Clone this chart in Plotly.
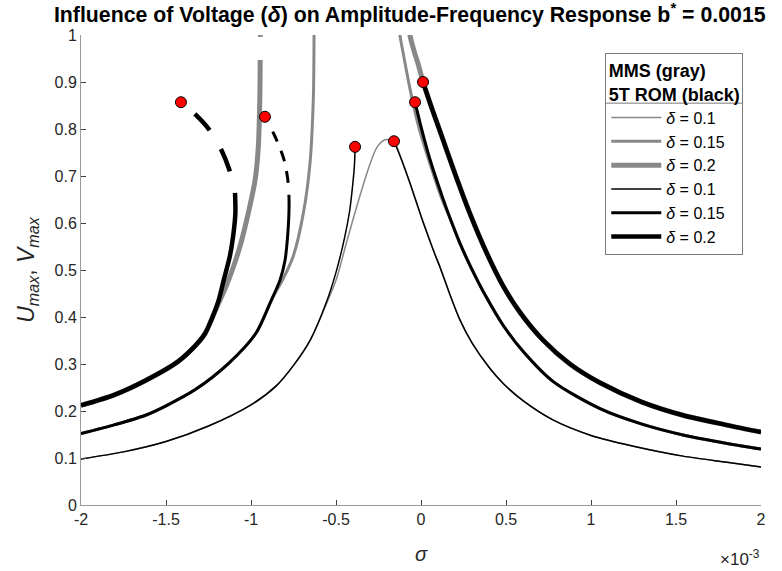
import plotly.graph_objects as go

GRAY = "#888888"
BLACK = "#000000"
FONT = "Liberation Sans, Arial, sans-serif"

# sigma in units of 1e-3
# --- delta = 0.1 ---
g01_x = [-2.0, -1.75, -1.5, -1.25, -1.0, -0.85, -0.75, -0.65, -0.56, -0.5, -0.437, -0.378, -0.319, -0.261,
         -0.212, -0.159, -0.12, -0.065, 0.0, 0.035, 0.08, 0.112, 0.17, 0.229, 0.3, 0.4, 0.482, 0.6, 0.776,
         1.0, 1.25, 1.541, 1.8, 2.0]
g01_y = [0.098, 0.113, 0.135, 0.168, 0.213, 0.254, 0.297, 0.352, 0.425, 0.478, 0.560, 0.635, 0.705, 0.760,
         0.777, 0.774, 0.740, 0.685, 0.615, 0.579, 0.535, 0.506, 0.448, 0.394, 0.345, 0.293, 0.259, 0.222, 0.181,
         0.148, 0.125, 0.104, 0.091, 0.081]
b01L_x = [-2.0, -1.75, -1.5, -1.25, -1.0, -0.85, -0.75, -0.65, -0.56, -0.5, -0.45, -0.42, -0.408, -0.398,
          -0.392, -0.389, -0.388]
b01L_y = [0.098, 0.113, 0.135, 0.168, 0.213, 0.254, 0.297, 0.352, 0.428, 0.495, 0.568, 0.625, 0.660, 0.695,
          0.720, 0.745, 0.762]
b01R_x = [-0.159, -0.12, -0.065, 0.0, 0.035, 0.08, 0.112, 0.17, 0.229, 0.3, 0.4, 0.482, 0.6, 0.776,
          1.0, 1.25, 1.541, 1.8, 2.0]
b01R_y = [0.774, 0.740, 0.685, 0.615, 0.579, 0.535, 0.506, 0.448, 0.394, 0.345, 0.293, 0.259, 0.222, 0.181,
          0.148, 0.125, 0.104, 0.091, 0.081]

# --- delta = 0.15 ---
g015L_x = [-2.0, -1.8, -1.62, -1.5, -1.33, -1.13, -0.97, -0.88, -0.81, -0.751, -0.692, -0.653, -0.633,
           -0.629, -0.628]
g015L_y = [0.152, 0.171, 0.191, 0.211, 0.245, 0.302, 0.366, 0.436, 0.482, 0.530, 0.621, 0.727, 0.869,
           1.0, 1.02]
g015R_x = [-0.128, -0.124, -0.10, -0.075, -0.045, -0.01, 0.045, 0.122, 0.171, 0.23, 0.288, 0.38, 0.482,
           0.6, 0.776, 1.053, 1.3, 1.541, 1.8, 2.0]
g015R_y = [1.02, 1.0, 0.952, 0.904, 0.852, 0.800, 0.735, 0.652, 0.610, 0.556, 0.510, 0.445, 0.383,
           0.327, 0.263, 0.205, 0.172, 0.149, 0.131, 0.119]
b015L_x = [-2.0, -1.8, -1.62, -1.5, -1.33, -1.13, -0.97, -0.88, -0.829, -0.80, -0.785, -0.778, -0.776, -0.777]
b015L_y = [0.152, 0.171, 0.191, 0.211, 0.245, 0.302, 0.366, 0.436, 0.479, 0.520, 0.570, 0.610, 0.640, 0.660]
b015D_x = [-0.777, -0.781, -0.790, -0.802, -0.822, -0.845, -0.869, -0.918]
b015D_y = [0.660, 0.684, 0.708, 0.730, 0.752, 0.773, 0.792, 0.826]
b015R_x = [-0.035, 0.0, 0.053, 0.129, 0.171, 0.23, 0.288, 0.38, 0.482, 0.6, 0.776, 1.053, 1.3, 1.541, 1.8, 2.0]
b015R_y = [0.857, 0.805, 0.735, 0.652, 0.610, 0.556, 0.510, 0.445, 0.383, 0.327, 0.263, 0.205, 0.172, 0.149,
           0.131, 0.119]

# --- delta = 0.2 ---
g02L_x = [-2.0, -1.8, -1.62, -1.43, -1.33, -1.27, -1.233, -1.19, -1.15, -1.11, -1.065, -1.016, -0.976,
          -0.957, -0.948, -0.946, None, -0.945, -0.945]
g02L_y = [0.212, 0.235, 0.265, 0.305, 0.338, 0.365, 0.394, 0.430, 0.462, 0.500, 0.550, 0.621, 0.691,
          0.762, 0.869, 0.947, None, 0.996, 1.02]
g02R_x = [-0.068, -0.065, -0.04, -0.018, 0.012, 0.06, 0.112, 0.2, 0.288, 0.388, 0.48, 0.582, 0.72, 0.876,
          1.053, 1.3, 1.541, 1.8, 2.0]
g02R_y = [1.02, 1.0, 0.965, 0.940, 0.900, 0.848, 0.795, 0.705, 0.620, 0.535, 0.468, 0.410, 0.350, 0.300,
          0.260, 0.219, 0.191, 0.170, 0.155]
b02L_x = [-2.0, -1.8, -1.62, -1.43, -1.33, -1.27, -1.233, -1.19, -1.16, -1.124, -1.104, -1.092, -1.094]
b02L_y = [0.212, 0.235, 0.265, 0.305, 0.338, 0.365, 0.394, 0.436, 0.479, 0.530, 0.575, 0.621, 0.664]
b02D_x = [-1.094, -1.104, -1.128, -1.182, -1.251, -1.339, -1.412]
b02D_y = [0.664, 0.680, 0.714, 0.761, 0.801, 0.835, 0.857]
b02R_x = [0.012, 0.06, 0.112, 0.2, 0.288, 0.388, 0.48, 0.582, 0.72, 0.876, 1.053, 1.3, 1.541, 1.8, 2.0]
b02R_y = [0.900, 0.848, 0.795, 0.705, 0.620, 0.535, 0.468, 0.410, 0.350, 0.300, 0.260, 0.219, 0.191, 0.170,
          0.155]

# bifurcation points (red dots)
dot_x = [-1.412, -0.918, -0.388, -0.159, -0.035, 0.012]
dot_y = [0.857, 0.826, 0.762, 0.774, 0.857, 0.900]

x_ticks = [-2, -1.5, -1, -0.5, 0, 0.5, 1, 1.5, 2]
x_tick_labels = ["-2", "-1.5", "-1", "-0.5", "0", "0.5", "1", "1.5", "2"]
y_ticks = [0, 0.1, 0.2, 0.3, 0.4, 0.5, 0.6, 0.7, 0.8, 0.9, 1]
y_tick_labels = ["0", "0.1", "0.2", "0.3", "0.4", "0.5", "0.6", "0.7", "0.8", "0.9", "1"]

fig = go.Figure()


def add(x, y, color, width, name=None, group=None, show=False, dash="solid"):
    fig.add_trace(go.Scatter(
        x=x, y=y, mode="lines", name=name, legendgroup=group, showlegend=show,
        line=dict(color=color, width=width, dash=dash, shape="spline", smoothing=0.8),
        connectgaps=False, hoverinfo="skip"))


# gray (MMS)
add(g01_x, g01_y, GRAY, 1.5, "<i>δ</i> = 0.1", "g1", True)
add(g015L_x, g015L_y, GRAY, 3, "<i>δ</i> = 0.15", "g2", True)
add(g015R_x, g015R_y, GRAY, 3, None, "g2")
add(g02L_x, g02L_y, GRAY, 5, "<i>δ</i> = 0.2", "g3", True)
add(g02R_x, g02R_y, GRAY, 5, None, "g3")
# black (5T ROM)
add(b01L_x, b01L_y, BLACK, 1.5, "<i>δ</i> = 0.1", "b1", True)
add(b01R_x, b01R_y, BLACK, 1.5, None, "b1")
add(b015L_x, b015L_y, BLACK, 3, "<i>δ</i> = 0.15", "b2", True)
add(b015D_x, b015D_y, BLACK, 3, None, "b2", dash="0px,12px,12px,10px,11px,10px,11px,40px")
add(b015R_x, b015R_y, BLACK, 3, None, "b2")
add(b02L_x, b02L_y, BLACK, 4.5, "<i>δ</i> = 0.2", "b3", True)
add(b02D_x, b02D_y, BLACK, 4.5, None, "b3", dash="0px,22px,24px,22px,22px,60px")
add(b02R_x, b02R_y, BLACK, 4.5, None, "b3")

fig.add_trace(go.Scatter(
    x=dot_x, y=dot_y, mode="markers", showlegend=False, hoverinfo="skip",
    marker=dict(color="#ff0000", size=11, line=dict(color="#000000", width=1))))

axis_common = dict(
    showline=True, linecolor="#9a9a9a", linewidth=1, mirror=False, automargin=False,
    ticks="inside", ticklen=5, tickcolor="#404040", showgrid=False, zeroline=False,
    tickfont=dict(family=FONT, size=16, color="#262626"),
)

fig.update_layout(
    width=782, height=571,
    margin=dict(l=81, r=21, t=35, b=66),
    paper_bgcolor="white", plot_bgcolor="white",
    title=dict(
        text="<b>Influence of Voltage (<i>δ</i>) on Amplitude-Frequency Response b<sup>*</sup> = 0.0015</b>",
        x=0.524, xanchor="center", y=0.975, yanchor="middle",
        font=dict(family=FONT, size=21.3, color="#000000")),
    xaxis=dict(range=[-2, 2], tickvals=x_ticks, ticktext=x_tick_labels,
               title=dict(text="<i>σ</i>", font=dict(family=FONT, size=20, color="#262626"),
                          standoff=19),
               **axis_common),
    yaxis=dict(range=[0, 1], tickvals=y_ticks, ticktext=y_tick_labels,
               title=dict(text="<i>U</i><sub><i>max</i></sub>, <i>V</i><sub><i>max</i></sub>",
                          font=dict(family=FONT, size=23, color="#262626"),
                          standoff=13),
               **axis_common),
    legend=dict(
        x=0.771, y=0.962, xanchor="left", yanchor="top",
        bgcolor="rgba(255,255,255,0)", bordercolor="#7a7a7a", borderwidth=1,
        font=dict(family=FONT, size=16, color="#000000"),
        title=dict(text="<b>MMS (gray)<br>5T ROM (black)</b>", side="top center",
                   font=dict(family=FONT, size=18, color="#000000")),
        tracegroupgap=0, itemwidth=50,
    ),
    showlegend=True,
)

# separator under the legend title
fig.add_shape(type="line", xref="paper", yref="paper", x0=0.771, x1=0.972, y0=0.855, y1=0.855,
              line=dict(color="#7a7a7a", width=1), layer="above")

fig.add_annotation(
    text="×10<sup>-3</sup>", xref="paper", yref="paper", x=1.0, y=-0.085,
    xanchor="right", yanchor="top", showarrow=False, xshift=1,
    font=dict(family=FONT, size=17, color="#262626"))

fig.write_html("out.html")
